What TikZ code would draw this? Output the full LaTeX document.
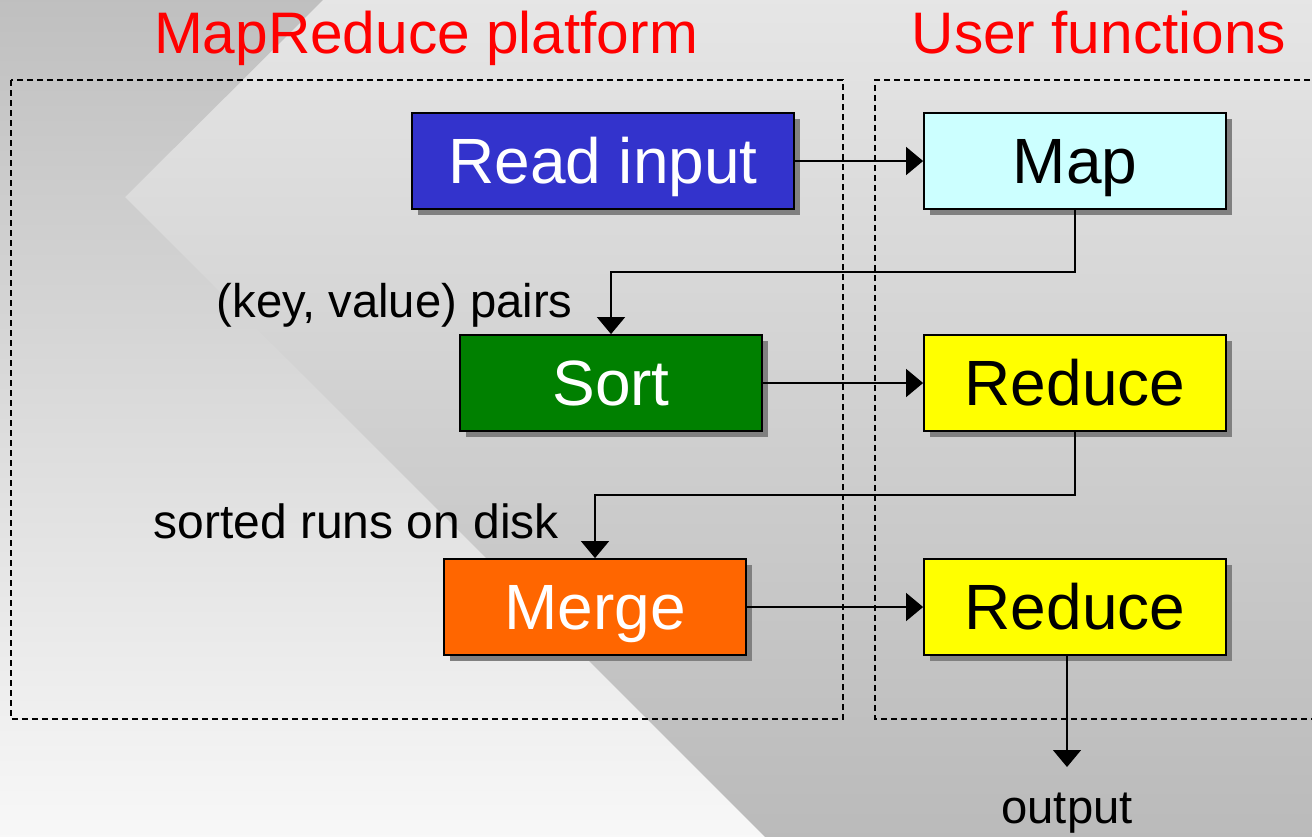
\documentclass[tikz,border=0pt]{standalone}
\usepackage{fontspec}
\setmainfont{Liberation Sans}
\usetikzlibrary{arrows.meta,shadows}

\definecolor{bgtop}{HTML}{E6E6E6}
\definecolor{bgbot}{HTML}{BABABA}
\definecolor{wedgetop}{HTML}{BFBFBF}
\definecolor{wedgebot}{HTML}{F8F8F8}
\definecolor{shadowgray}{HTML}{808080}
\definecolor{readblue}{HTML}{3333CC}
\definecolor{mapcyan}{HTML}{CCFFFF}
\definecolor{sortgreen}{HTML}{008000}
\definecolor{mergeorange}{HTML}{FF6600}
\definecolor{reduceyellow}{HTML}{FFFF00}

\tikzset{
  stagebox/.style={draw=black, line width=0.9pt, minimum height=48pt,
    minimum width=151pt, inner sep=0pt, text height=22.9pt, text depth=0pt,
    font=\fontsize{32}{32}\selectfont,
    general shadow={fill=shadowgray, draw=none, shadow xshift=2.8pt, shadow yshift=-2.8pt}},
  heading/.style={text=red, inner sep=0pt, anchor=base, font=\fontsize{29.3}{29.3}\selectfont},
  note/.style={inner sep=0pt, font=\fontsize{23.6}{23.6}\selectfont},
  conn/.style={line width=0.75pt, -{Triangle[length=8.5pt, width=14pt]}},
  region/.style={dash pattern=on 3pt off 2pt, line width=0.7pt}
}

\begin{document}
\begin{tikzpicture}[x=0.5pt, y=-0.5pt]
  \useasboundingbox (0,0) rectangle (1312,836);

  % background: two opposing vertical gradients split by a chevron
  \shade[top color=bgtop, bottom color=bgbot] (-6,-6) rectangle (1318,842);
  \shade[top color=wedgetop, bottom color=wedgebot]
    (-6,-6) -- (329,-6) -- (125,197) -- (770,842) -- (-6,842) -- cycle;

  % dashed grouping regions
  \draw[region] (11,80) rectangle (843,719);
  \draw[region] (1320,80) -- (875,80) -- (875,719) -- (1320,719);

  % headings
  \node[heading] (hplat) at (426,53) {MapReduce platform};
  \node[heading] (huser) at (1099,53) {User functions};

  % stages
  \node[stagebox, fill=readblue, text=white, minimum width=191pt] (read) at (603,161) {Read input};
  \node[stagebox, fill=mapcyan] (map) at (1075,161) {Map};
  \node[stagebox, fill=sortgreen, text=white] (sort) at (611,383) {Sort};
  \node[stagebox, fill=reduceyellow] (red1) at (1075,383) {Reduce};
  \node[stagebox, fill=mergeorange, text=white] (merge) at (595,607) {Merge};
  \node[stagebox, fill=reduceyellow] (red2) at (1075,607) {Reduce};

  % annotations
  \node[note, anchor=base east] (kv) at (573,317) {(key, value) pairs};
  \node[note, anchor=base west, font=\fontsize{24}{24}\selectfont] (runs) at (153,538) {sorted runs on disk};
  \node[note, anchor=base] (output) at (1067,823) {output};
  \coordinate (outend) at (1067,767);

  % data flow
  \draw[conn] (read.east) -- (map.west);
  \draw[conn] (map.south) -- ++(0,62) -| (sort.north);
  \draw[conn] (sort.east) -- (red1.west);
  \draw[conn] (red1.south) -- ++(0,63) -| (merge.north);
  \draw[conn] (merge.east) -- (red2.west);
  \draw[conn] ([xshift=-4pt]red2.south) -- (outend);
\end{tikzpicture}
\end{document}
